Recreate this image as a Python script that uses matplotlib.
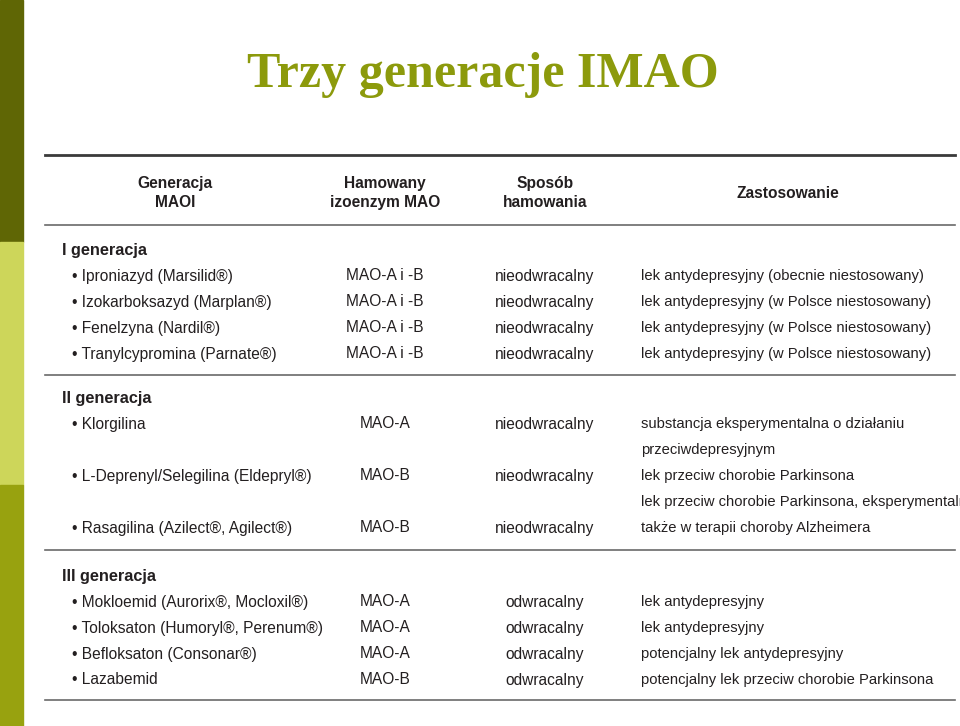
import matplotlib
matplotlib.use("Agg")
import matplotlib.pyplot as plt
from matplotlib.patches import Rectangle

title = "Trzy generacje IMAO"
headers = ["Generacja\nMAOI", "Hamowany\nizoenzym MAO", "Sposób\nhamowania", "Zastosowanie"]
groups = ["I generacja", "II generacja", "III generacja"]
col1 = ["• Iproniazyd (Marsilid®)", "• Izokarboksazyd (Marplan®)", "• Fenelzyna (Nardil®)",
        "• Tranylcypromina (Parnate®)",
        "• Klorgilina", "", "• L-Deprenyl/Selegilina (Eldepryl®)", "", "• Rasagilina (Azilect®, Agilect®)",
        "• Mokloemid (Aurorix®, Mocloxil®)", "• Toloksaton (Humoryl®, Perenum®)",
        "• Befloksaton (Consonar®)", "• Lazabemid"]
col2 = ["MAO-A i -B"]*4 + ["MAO-A", "", "MAO-B", "", "MAO-B", "MAO-A", "MAO-A", "MAO-A", "MAO-B"]
col3 = ["nieodwracalny"]*4 + ["nieodwracalny", "", "nieodwracalny", "", "nieodwracalny"] + ["odwracalny"]*4
col4 = ["lek antydepresyjny (obecnie niestosowany)", "lek antydepresyjny (w Polsce niestosowany)",
        "lek antydepresyjny (w Polsce niestosowany)", "lek antydepresyjny (w Polsce niestosowany)",
        "substancja eksperymentalna o działaniu", "przeciwdepresyjnym", "lek przeciw chorobie Parkinsona",
        "lek przeciw chorobie Parkinsona, eksperymentalnie", "także w terapii choroby Alzheimera",
        "lek antydepresyjny", "lek antydepresyjny", "potencjalny lek antydepresyjny",
        "potencjalny lek przeciw chorobie Parkinsona"]

row_y = [276, 302, 328, 354, 424, 450, 476, 502, 528, 602, 628, 654, 680]
group_y = [250, 398, 576]

fig = plt.figure(figsize=(9.6, 7.26), dpi=100)
ax = fig.add_axes([0, 0, 1, 1])
ax.set_xlim(0, 960); ax.set_ylim(726, 0); ax.axis("off")

ax.add_patch(Rectangle((0, 0), 23, 242, color="#5f6605"))
ax.add_patch(Rectangle((0, 242), 23, 243, color="#cdd65a"))
ax.add_patch(Rectangle((0, 485), 23, 241, color="#98a20f"))

ax.text(483, 75, title, ha="center", va="center", fontsize=36, fontweight="bold",
        family="Liberation Serif", color="#8c9a0c")

fam = ["Liberation Sans", "DejaVu Sans"]
fs = 11.2
fs4 = 10.6
tc = "#231f20"
for x, h in zip([175, 385, 545, 788], headers):
    ax.text(x, 193, h, ha="center", va="center", fontsize=fs, fontweight="bold",
            family=fam, color=tc, linespacing=1.4)
for y, g in zip(group_y, groups):
    ax.text(62, y, g, ha="left", va="center", fontsize=fs+0.5, fontweight="bold", family=fam, color=tc)
for i, y in enumerate(row_y):
    ax.text(72, y, col1[i], ha="left", va="center", fontsize=fs, family=fam, color=tc)
    ax.text(385, y, col2[i], ha="center", va="center", fontsize=fs, family=fam, color=tc)
    ax.text(545, y, col3[i], ha="center", va="center", fontsize=fs, family=fam, color=tc)
    ax.text(641, y, col4[i], ha="left", va="center", fontsize=fs4, family=fam, color=tc)

ax.plot([45, 955], [155, 155], color="#3a3a3a", lw=2)
for y in [225, 375, 550, 700]:
    ax.plot([45, 955], [y, y], color="#6a6a6a", lw=1.2)

fig.savefig("out.png", dpi=100)
